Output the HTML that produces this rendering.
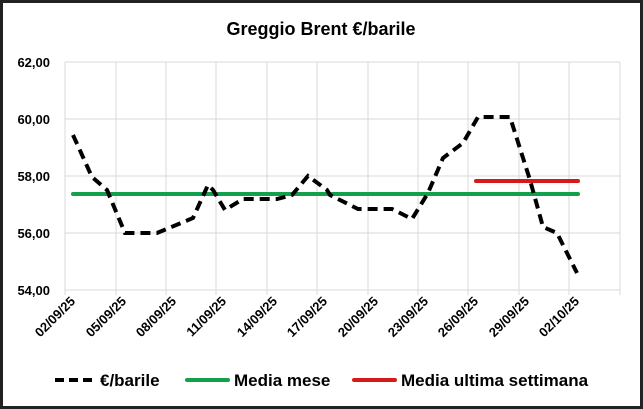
<!DOCTYPE html>
<html><head><meta charset="utf-8"><style>
body{margin:0;background:#fff}
svg{display:block;font-family:"Liberation Sans",sans-serif}
</style></head><body>
<svg width="643" height="409" viewBox="0 0 643 409">
<rect x="1.5" y="1.5" width="640" height="406" fill="#fff" stroke="#222" stroke-width="3"/>
<text x="321" y="35" text-anchor="middle" font-size="18" font-weight="bold">Greggio Brent €/barile</text>
<g stroke="#d9d9d9" stroke-width="1">
<line x1="65" y1="62" x2="620" y2="62"/><line x1="65" y1="119" x2="620" y2="119"/>
<line x1="65" y1="176" x2="620" y2="176"/><line x1="65" y1="233" x2="620" y2="233"/>
<line x1="65" y1="290" x2="620" y2="290"/>
<line x1="65" y1="62" x2="65" y2="295"/><line x1="116" y1="62" x2="116" y2="295"/>
<line x1="166" y1="62" x2="166" y2="295"/><line x1="216" y1="62" x2="216" y2="295"/>
<line x1="267" y1="62" x2="267" y2="295"/><line x1="317" y1="62" x2="317" y2="295"/>
<line x1="368" y1="62" x2="368" y2="295"/><line x1="418" y1="62" x2="418" y2="295"/>
<line x1="468" y1="62" x2="468" y2="295"/><line x1="519" y1="62" x2="519" y2="295"/>
<line x1="569" y1="62" x2="569" y2="295"/><line x1="620" y1="62" x2="620" y2="295"/>
</g>
<g font-size="13" font-weight="bold" text-anchor="end">
<text x="50" y="67">62,00</text><text x="50" y="124">60,00</text>
<text x="50" y="181">58,00</text><text x="50" y="238">56,00</text>
<text x="50" y="295">54,00</text>
</g>
<g font-size="13" font-weight="bold" text-anchor="end">
<text transform="translate(76,302) rotate(-45)">02/09/25</text>
<text transform="translate(127,302) rotate(-45)">05/09/25</text>
<text transform="translate(177,302) rotate(-45)">08/09/25</text>
<text transform="translate(227,302) rotate(-45)">11/09/25</text>
<text transform="translate(278,302) rotate(-45)">14/09/25</text>
<text transform="translate(328,302) rotate(-45)">17/09/25</text>
<text transform="translate(379,302) rotate(-45)">20/09/25</text>
<text transform="translate(429,302) rotate(-45)">23/09/25</text>
<text transform="translate(479,302) rotate(-45)">26/09/25</text>
<text transform="translate(530,302) rotate(-45)">29/09/25</text>
<text transform="translate(580,302) rotate(-45)">02/10/25</text>
</g>
<line x1="73" y1="194" x2="578" y2="194" stroke="#14a04a" stroke-width="4" stroke-linecap="round"/>
<line x1="476" y1="181" x2="578" y2="181" stroke="#d61a1a" stroke-width="4" stroke-linecap="round"/>
<polyline fill="none" stroke="#000" stroke-width="4" stroke-dasharray="10,6" points="73,135 92,177 107,190 125,233 157,233 193,218 208,185 213,190 225,210 243,199 277,199 292,195 308,176 327,190 330,195 358,209 392,209 412,219 428,193 443,158 463,143 478,117 510,117 530,180 543,227 557,233 577,273"/>
<line x1="55" y1="380" x2="92" y2="380" stroke="#000" stroke-width="4" stroke-dasharray="9,5"/>
<text x="100" y="386" font-size="17" font-weight="bold">€/barile</text>
<line x1="187" y1="380" x2="228" y2="380" stroke="#14a04a" stroke-width="4" stroke-linecap="round"/>
<text x="234" y="386" font-size="17" font-weight="bold">Media mese</text>
<line x1="354" y1="380" x2="395" y2="380" stroke="#d61a1a" stroke-width="4" stroke-linecap="round"/>
<text x="401" y="386" font-size="17" font-weight="bold">Media ultima settimana</text>
</svg>
</body></html>
